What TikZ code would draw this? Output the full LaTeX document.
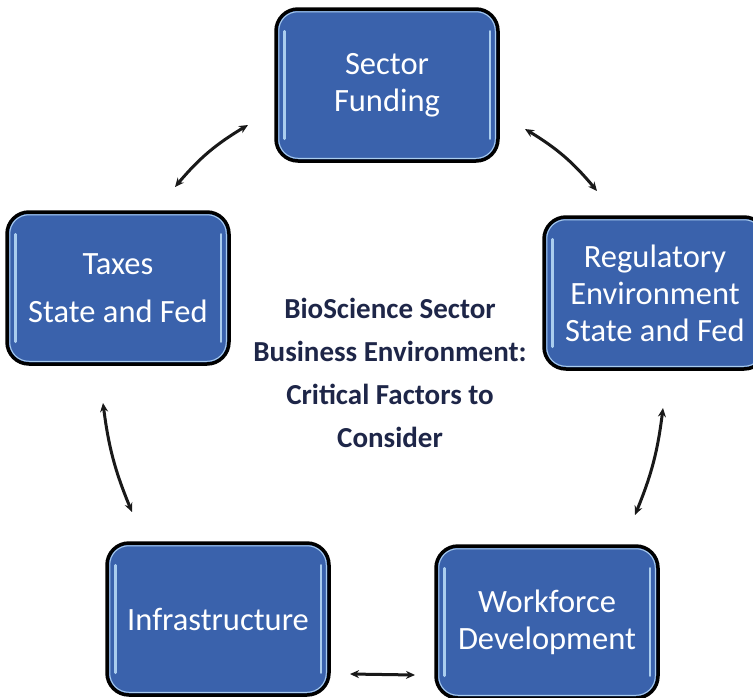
\documentclass[tikz,border=0pt]{standalone}
\usepackage{fontspec}
\setmainfont{Carlito}
\usetikzlibrary{arrows.meta,bending}
\definecolor{boxblue}{RGB}{58,98,172}
\definecolor{hilite}{RGB}{170,205,238}
\definecolor{navy}{RGB}{30,38,72}
\definecolor{arrowgray}{RGB}{25,25,25}
\tikzset{
  factor/.style={draw=black, line width=3.5pt, fill=boxblue, rounded corners=22pt,
    minimum width=222pt, minimum height=152pt, text=white,
    font=\fontsize{32.5}{37}\selectfont, align=center, inner sep=0pt},
  link/.style={arrowgray, line width=3pt,
    {Stealth[length=9pt,width=8pt]}-{Stealth[length=9pt,width=8pt]}},
  title/.style={text=navy, font=\fontsize{29}{43}\selectfont\bfseries, align=center},
  ring/.style={hilite, line width=1pt, rounded corners=19pt},
  gleam/.style={hilite, line width=2.5pt, line cap=round}
}
\newcommand{\gloss}[1]{%
  \draw[ring] ([shift={(4.5pt,-4.5pt)}]#1.north west) rectangle ([shift={(-4.5pt,4.5pt)}]#1.south east);
  \draw[gleam] ([shift={(10pt,-24pt)}]#1.north west) -- ([shift={(10pt,24pt)}]#1.south west);
  \draw[gleam] ([shift={(-10pt,-24pt)}]#1.north east) -- ([shift={(-10pt,24pt)}]#1.south east);}
\begin{document}
\begin{tikzpicture}[x=1pt,y=-1pt]
\fill[white] (0,0) rectangle (753,697);
\useasboundingbox (0,0) rectangle (753,697);

\node[factor] (fund) at (387,85) {\raisebox{-4pt}{\parbox{200pt}{\centering Sector\\Funding}}};
\node[factor] (tax) at (118,288) {Taxes\\[11pt]State and Fed};
\node[factor] (reg) at (655,293) {Regulatory\\Environment\\State and Fed};
\node[factor] (infra) at (218,619) {Infrastructure};
\node[factor] (work) at (547,622) {Workforce\\Development};
\foreach \n in {fund,tax,reg,infra,work} {\gloss{\n}}

\node[title] (center) at (390,373) {BioScience Sector\\Business Environment:\\Critical Factors to\\Consider};

\coordinate (a1s) at (175,187);
\coordinate (a1e) at (248,125);
\coordinate (a2s) at (525,129);
\coordinate (a2e) at (597,191);
\coordinate (a3s) at (103,403);
\coordinate (a3e) at (132,512);
\coordinate (a4s) at (663,408);
\coordinate (a4e) at (635,515);
\coordinate (a5s) at (350,674);
\coordinate (a5e) at (415,675);

\draw[link] (a1s) to[bend left=10] (a1e);
\draw[link] (a2s) to[bend left=10] (a2e);
\draw[link] (a3s) to[bend right=8] (a3e);
\draw[link] (a4s) to[bend left=8] (a4e);
\draw[link] (a5s) -- (a5e);
\end{tikzpicture}
\end{document}
